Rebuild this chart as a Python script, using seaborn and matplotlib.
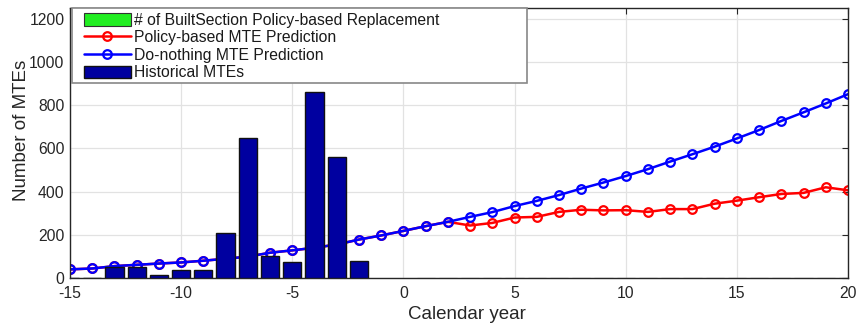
import numpy as np
import pandas as pd
import matplotlib
matplotlib.use("Agg")
import matplotlib.pyplot as plt
from matplotlib.patches import Rectangle
import seaborn as sns

# ---- data ----
years = list(range(-15, 21))
hist_years = list(range(-15, -1))
hist_mtes = [2, 0, 52, 53, 12, 39, 39, 209, 646, 104, 75, 861, 558, 77]
repl_years = list(range(1, 21))
repl_counts = [0, 0, 0, 0, 0, 0, 0, 0, 0, 0, 0, 0, 0, 0, 0, 0, 0, 1, 1, 1]
do_nothing = [40, 44, 55, 61, 67, 72, 80, 89, 99, 117, 128, 140, 155, 178, 197,
              218, 240, 260, 283, 305, 333, 357, 384, 414, 442, 472, 504, 539,
              573, 608, 646, 685, 727, 767, 808, 851]
policy = [40, 44, 55, 61, 67, 72, 80, 89, 99, 117, 128, 140, 155, 178, 197,
          218, 240, 260, 243, 255, 280, 283, 306, 316, 313, 314, 306, 319,
          319, 344, 358, 374, 389, 394, 420, 406]
x_ticks = [-15, -10, -5, 0, 5, 10, 15, 20]
y_ticks = [0, 200, 400, 600, 800, 1000, 1200]

sns.set_style("whitegrid")
plt.rcParams['font.family'] = ['Liberation Sans', 'DejaVu Sans']

fig = plt.figure(figsize=(8.6, 3.26), dpi=100)
ax = fig.add_axes([70/860, 48/326, 778/860, 270/326])

df_line = pd.DataFrame({"year": years, "dn": do_nothing, "pol": policy})
df_hist = pd.DataFrame({"year": hist_years, "n": hist_mtes})
df_repl = pd.DataFrame({"year": repl_years, "n": repl_counts})

sns.lineplot(data=df_line, x="year", y="pol", ax=ax, color="#ff0000", lw=1.8,
             marker="o", ms=6.2, mfc="none", mec="#ff0000", mew=1.6,
             label="Policy-based MTE Prediction", zorder=2)
sns.lineplot(data=df_line, x="year", y="dn", ax=ax, color="#0000ff", lw=1.8,
             marker="o", ms=6.2, mfc="none", mec="#0000ff", mew=1.6,
             label="Do-nothing MTE Prediction", zorder=2.1)
sns.barplot(data=df_hist, x="year", y="n", ax=ax, native_scale=True,
            color="#0000a0", saturation=1, width=0.82, edgecolor="#111111",
            linewidth=1, label="Historical MTEs", zorder=3)
sns.barplot(data=df_repl, x="year", y="n", ax=ax, native_scale=True,
            color="#22ee22", saturation=1, width=0.82, edgecolor="#333333",
            linewidth=0.8, label="# of BuiltSection Policy-based Replacement",
            zorder=3)

ax.set_xlim(-15, 20)
ax.set_ylim(0, 1250)
ax.set_xticks(x_ticks)
ax.set_yticks(y_ticks)
ax.set_xticklabels([str(t) for t in x_ticks])
ax.set_yticklabels([str(t) for t in y_ticks])
ax.grid(True, color="#e2e2e2", lw=0.9)
ax.set_axisbelow(True)
ax.tick_params(direction="in", length=4, top=True, right=True,
               labelsize=11.3, colors="#262626", pad=4)
ax.tick_params(axis="x", pad=6)
for s in ax.spines.values():
    s.set_color("#262626")
    s.set_linewidth(1.0)
    s.set_visible(True)

ax.set_xlabel("Calendar year", fontsize=13.5, color="#262626")
ax.set_ylabel("Number of MTEs", fontsize=13.5, color="#262626")
ax.xaxis.set_label_coords(0.51, -0.105)
ax.yaxis.set_label_coords(-0.052, 0.548)

handles, labels = ax.get_legend_handles_labels()
order = ["# of BuiltSection Policy-based Replacement", "Policy-based MTE Prediction",
         "Do-nothing MTE Prediction", "Historical MTEs"]
hd = dict(zip(labels, handles))

# legend frame
frame = Rectangle((2/778, 1 - 75/270), 455/778, 75/270, transform=ax.transAxes,
                  facecolor="white", edgecolor="#888888", lw=1.2, zorder=4,
                  clip_on=False)
ax.add_patch(frame)
leg = ax.legend([hd[k] for k in order], order, loc="upper left",
                bbox_to_anchor=(9/778, 1.0), borderaxespad=0,
                fontsize=11.3, handlelength=3.0, handleheight=0.85,
                handletextpad=0.2, labelspacing=0.165, borderpad=0.3,
                frameon=False)
leg.set_zorder(5)
for t in leg.get_texts():
    t.set_color("#1a1a1a")

fig.savefig("out.png", dpi=100)
